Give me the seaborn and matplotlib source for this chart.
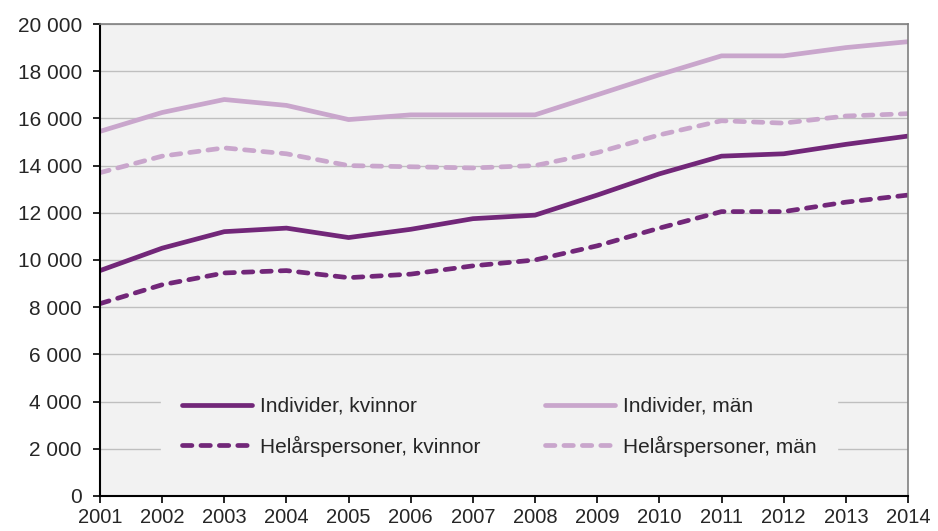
import matplotlib
matplotlib.use("Agg")
import matplotlib.pyplot as plt
from matplotlib.ticker import FuncFormatter, MultipleLocator
import seaborn as sns
import pandas as pd

# data
years = list(range(2001, 2015))
ind_kvinnor = [9550, 10500, 11200, 11350, 10950, 11300, 11750, 11900, 12750, 13650, 14400, 14500, 14900, 15250]
ind_man = [15450, 16250, 16800, 16550, 15950, 16150, 16150, 16150, 17000, 17850, 18650, 18650, 19000, 19250]
hel_kvinnor = [8150, 8950, 9450, 9550, 9250, 9400, 9750, 10000, 10600, 11350, 12050, 12050, 12450, 12750]
hel_man = [13700, 14400, 14750, 14500, 14000, 13950, 13900, 14000, 14550, 15300, 15900, 15800, 16100, 16200]

labels = ["Individer, kvinnor", "Helårspersoner, kvinnor", "Individer, män", "Helårspersoner, män"]
series = [ind_kvinnor, hel_kvinnor, ind_man, hel_man]

DARK = "#722779"
LIGHT = "#c9a6cc"
palette = {labels[0]: DARK, labels[1]: DARK, labels[2]: LIGHT, labels[3]: LIGHT}
dashes = {labels[0]: "", labels[1]: (2.0, 1.9), labels[2]: "", labels[3]: (2.0, 1.9)}

rows = []
for lab, vals in zip(labels, series):
    for y, v in zip(years, vals):
        rows.append({"År": y, "Antal": v, "Serie": lab})
df = pd.DataFrame(rows)

sns.set_style("white")
plt.rcParams["font.family"] = ["Liberation Sans", "DejaVu Sans"]

LW = 3.4

fig = plt.figure(figsize=(9.38, 5.31), dpi=100)
ax = fig.add_axes([0.1066, 0.066, 0.8614, 0.8888])
ax.set_facecolor("#f2f2f2")

sns.lineplot(data=df, x="År", y="Antal", hue="Serie", style="Serie",
             hue_order=labels, style_order=labels,
             palette=palette, dashes=dashes, linewidth=LW, ax=ax,
             legend=True)
for ln in ax.get_lines():
    ln.set_dash_capstyle("round")
    ln.set_solid_capstyle("round")

ax.set_xlim(2001, 2014)
ax.set_ylim(0, 20000)
ax.yaxis.set_major_locator(MultipleLocator(2000))
ax.yaxis.set_major_formatter(FuncFormatter(lambda v, p: f"{int(v):,}".replace(",", " ")))
ax.set_xticks(years)
ax.grid(axis="y", color="#bfbfbf", linewidth=1)
ax.set_axisbelow(True)
ax.set_xlabel("")
ax.set_ylabel("")

ax.tick_params(axis="both", labelsize=15, direction="out", length=5, width=1.2, color="black")
ax.tick_params(axis="x", labelsize=14.5, pad=4)
ax.tick_params(axis="y", pad=8)
ax.tick_params(left=True, bottom=True)
for s in ["left", "bottom"]:
    ax.spines[s].set_color("black")
    ax.spines[s].set_linewidth(1.5)
for s in ["top", "right"]:
    ax.spines[s].set_color("#808080")
    ax.spines[s].set_linewidth(1.2)

handles, labs = ax.get_legend_handles_labels()
for h in handles:
    h.set_linewidth(LW)
    h.set_dash_capstyle("round")
    h.set_solid_capstyle("round")
leg = ax.legend(handles, labs, loc="lower center", bbox_to_anchor=(0.494, 0.017),
                ncol=2, fontsize=15, frameon=True, facecolor="#f2f2f2",
                edgecolor="#f2f2f2", framealpha=1, handlelength=3.35,
                columnspacing=3.1, borderpad=1.0, labelspacing=0.95, handletextpad=0.4)

fig.savefig("out.png", dpi=100)
